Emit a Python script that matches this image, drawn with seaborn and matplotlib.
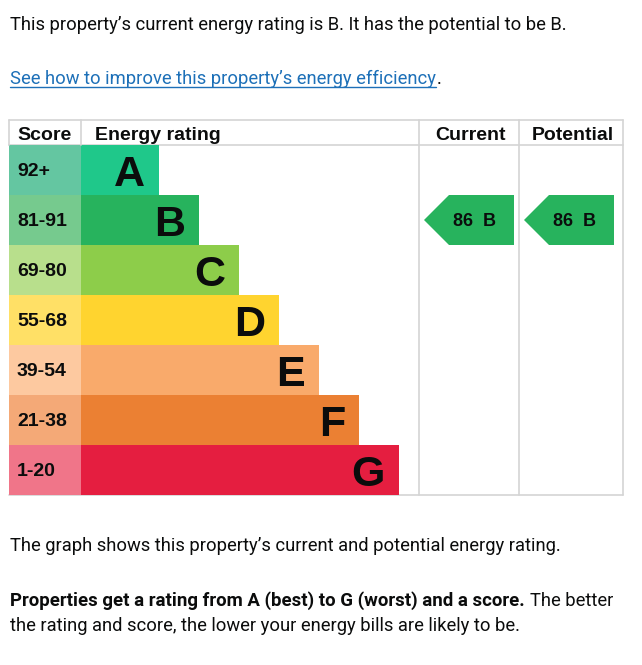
import matplotlib
matplotlib.use("Agg")
import matplotlib.pyplot as plt
import pandas as pd
import seaborn as sns
from matplotlib.patches import Polygon

# EPC bands, top (best) to bottom (worst)
bands = ["A", "B", "C", "D", "E", "F", "G"]
score_ranges = ["92+", "81-91", "69-80", "55-68", "39-54", "21-38", "1-20"]
band_lengths = [78, 118, 158, 198, 238, 278, 318]
band_colors = ["#1fc88a", "#27b35d", "#8dcd4a", "#ffd42f", "#f9aa6b", "#eb8033", "#e51e40"]
score_colors = ["#64c6a1", "#76ca8e", "#b8df8c", "#ffe066", "#fdc9a0", "#f4a977", "#f07589"]
column_headers = ["Score", "Energy rating", "Current", "Potential"]

current_score, current_band = 86, "B"
potential_score, potential_band = 86, "B"

W, H = 642, 665
TEXT = "#0b0c0c"
LINK = "#1d70b8"
GRID = "#d4d4d4"
BODY_FONT = ["Roboto", "DejaVu Sans"]
CHART_FONT = ["Liberation Sans", "DejaVu Sans"]

sns.set_theme(style="white")
plt.rcParams["font.family"] = CHART_FONT

df = pd.DataFrame({"band": bands, "length": band_lengths, "score": score_ranges})
score_w = 72

fig = plt.figure(figsize=(W / 100, H / 100), dpi=100)
fig.patch.set_facecolor("white")
ax = fig.add_axes([9 / W, 1 - 495 / H, 614 / W, 375 / H])

sns.barplot(data=df, x="length", y="band", hue="band", palette=band_colors,
            width=1, saturation=1, linewidth=0, legend=False, ax=ax)
sns.barplot(x=[-score_w] * len(bands), y=bands, hue=bands, palette=score_colors,
            width=1, saturation=1, linewidth=0, legend=False, ax=ax)

ax.set_xlim(-score_w, 542)
ax.set_ylim(6.5, -1.0)
ax.axis("off")

# table grid
for y in (-1.0, -0.5, 6.5):
    ax.plot([-score_w, 542], [y, y], color=GRID, lw=1.2, clip_on=False, zorder=0)
ax.plot([-score_w, -score_w], [-1.0, -0.5], color=GRID, lw=1.2, clip_on=False)
ax.plot([0, 0], [-1.0, -0.5], color=GRID, lw=1.2, clip_on=False)
for x in (338, 438, 542):
    ax.plot([x, x], [-1.0, 6.5], color=GRID, lw=1.2, clip_on=False, zorder=0)

# headers
hdr_kw = dict(fontsize=14, fontweight="bold", color=TEXT, va="baseline")
ax.text(-64, -0.6, column_headers[0], ha="left", **hdr_kw)
ax.text(14, -0.6, column_headers[1], ha="left", **hdr_kw)
ax.text(389, -0.6, column_headers[2], ha="center", **hdr_kw)
ax.text(492, -0.6, column_headers[3], ha="center", **hdr_kw)

for i, (band, length, rng) in enumerate(zip(bands, band_lengths, score_ranges)):
    ax.text(length - 14, i + 0.31, band, ha="right", va="baseline",
            fontsize=31, fontweight="bold", color=TEXT)
    ax.text(-64, i + 0.13, rng, ha="left", va="baseline",
            fontsize=14, fontweight="bold", color=TEXT)


def rating_arrow(col_left, score, band):
    row = bands.index(band)
    color = band_colors[row]
    tip, body, right = col_left + 5, col_left + 30, col_left + 95
    pts = [(tip, row), (body, row - 0.5), (right, row - 0.5),
           (right, row + 0.5), (body, row + 0.5)]
    ax.add_patch(Polygon(pts, closed=True, facecolor=color, edgecolor="none"))
    ax.text(body + 4, row + 0.12, f"{score}  {band}", ha="left", va="baseline",
            fontsize=13, fontweight="bold", color=TEXT)


rating_arrow(338, current_score, current_band)
rating_arrow(438, potential_score, potential_band)

# surrounding page text
body_kw = dict(fontsize=13.2, color=TEXT, family=BODY_FONT, va="baseline")
fig.text(10 / W, 1 - 30 / H,
         f"This property\u2019s current energy rating is {current_band}. "
         f"It has the potential to be {potential_band}.", **body_kw)

renderer = fig.canvas.get_renderer()
link = fig.text(10 / W, 1 - 84 / H,
                "See how to improve this property\u2019s energy efficiency",
                **{**body_kw, "color": LINK})
bb = link.get_window_extent(renderer)
fig.add_artist(plt.Line2D([bb.x0 / W, bb.x1 / W], [1 - 86.5 / H] * 2,
                          color=LINK, lw=1, transform=fig.transFigure))
fig.text(bb.x1 / W + 1 / W, 1 - 84 / H, ".", **body_kw)

fig.text(10 / W, 1 - 551 / H,
         "The graph shows this property\u2019s current and potential energy rating.",
         **body_kw)
bold = fig.text(10 / W, 1 - 606 / H,
                "Properties get a rating from A (best) to G (worst) and a score.",
                fontweight="bold", **{**body_kw, "fontsize": 13.4})
bb = bold.get_window_extent(renderer)
fig.text(bb.x1 / W + 5 / W, 1 - 606 / H, "The better", **body_kw)
fig.text(10 / W, 1 - 631 / H,
         "the rating and score, the lower your energy bills are likely to be.",
         **body_kw)

fig.savefig("out.png", dpi=100, facecolor="white")
